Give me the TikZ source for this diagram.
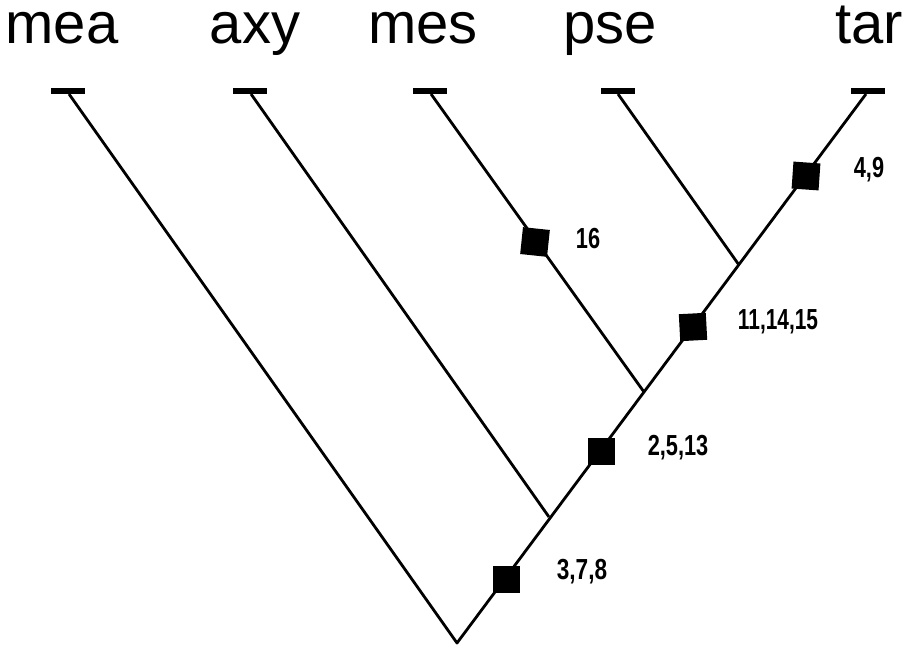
\documentclass[tikz,border=0pt]{standalone}
\usepackage{fontspec}
\usepackage{graphicx}
\setmainfont{Liberation Sans}
\newfontfamily\numfont{Liberation Sans}
\begin{document}
\begin{tikzpicture}[x=1pt,y=-1pt,
  branch/.style={line width=2.8pt},
  tickbar/.style={line width=6pt},
  taxon/.style={font=\fontsize{58}{58}\selectfont, anchor=base, inner sep=0pt},
  apo/.style={fill=black, minimum size=27pt, inner sep=0pt, draw=none},
  numlab/.style={font=\numfont\bfseries\fontsize{29}{29}\selectfont, inner sep=0pt}]
\useasboundingbox (0,0) rectangle (920,647);
% taxa labels
\node[taxon] (Lmea) at (62,44) {mea};
\node[taxon] (Laxy) at (255,44) {axy};
\node[taxon] (Lmes) at (423,44) {mes};
\node[taxon] (Lpse) at (610,44) {pse};
\node[taxon] (Ltar) at (869,44) {tar};
% tips
\coordinate (tmea) at (69,94);
\coordinate (taxy) at (251,94);
\coordinate (tmes) at (431,94);
\coordinate (tpse) at (618,94);
\coordinate (ttar) at (866,94);
\foreach \t/\c in {mea/68,axy/250,mes/430,pse/618,tar/868}
  \draw[tickbar] (\c-17,91.5) -- (\c+17,91.5);
% root and junctions
\coordinate (root) at (457,643);
\coordinate (j1) at (549,517);
\coordinate (j2) at (644,392);
\coordinate (j3) at (739,265);
\draw[branch,line join=round] (tmea) -- (root) -- (ttar);
\draw[branch] (taxy) -- (j1);
\draw[branch] (tmes) -- (j2);
\draw[branch] (tpse) -- (j3);
% apomorphy squares
\node[apo,rotate=-6] (s16) at (535,242) {};
\node[apo,rotate=-4] (s49) at (806,176) {};
\node[apo,rotate=3] (s111) at (693,327) {};
\node[apo] (s25) at (601,451) {};
\node[apo] (s37) at (506,579) {};
% labels
\node[numlab] (n16) at (588,239) {\scalebox{0.75}[1]{16}};
\node[numlab] (n49) at (869,170) {\scalebox{0.75}[1]{4,9}};
\node[numlab] (n111) at (778,322) {\scalebox{0.72}[1]{11,14,15}};
\node[numlab] (n25) at (678,448) {\scalebox{0.75}[1]{2,5,13}};
\node[numlab] (n37) at (582,572) {\scalebox{0.78}[1]{3,7,8}};
\end{tikzpicture}
\end{document}
